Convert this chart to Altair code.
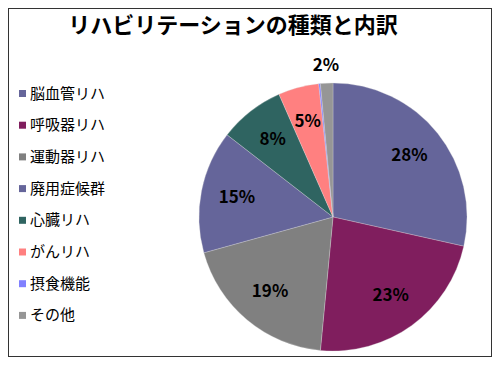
import altair as alt
import pandas as pd

TITLE = "リハビリテーションの種類と内訳"
categories = ["脳血管リハ", "呼吸器リハ", "運動器リハ", "廃用症候群", "心臓リハ", "がんリハ", "摂食機能", "その他"]
values = [28.5, 23.0, 19.2, 14.8, 7.9, 4.9, 0.2, 1.5]
labels = ["28%", "23%", "19%", "15%", "8%", "5%", "", "2%"]
colors = ["#65659A", "#801E5E", "#808080", "#65659A", "#2F6461", "#FF8080", "#8080FF", "#969696"]

df = pd.DataFrame({
    "idx": list(range(len(categories))),
    "category": categories,
    "value": values,
    "label": labels,
})

FONT = "Noto Sans CJK JP"
CX, CY, R = 325, 209, 134

base = alt.Chart(df).encode(
    theta=alt.Theta("value:Q", stack=True),
    order=alt.Order("idx:Q", sort="ascending"),
    x=alt.value(CX),
    y=alt.value(CY),
)

pie = base.mark_arc(outerRadius=R, stroke="#dddddd", strokeWidth=0.3).encode(
    color=alt.Color(
        "category:N",
        scale=alt.Scale(domain=categories, range=colors),
        sort=categories,
        legend=alt.Legend(
            title=None,
            orient="none",
            legendX=7,
            legendY=78,
            symbolType="square",
            symbolSize=49,
            symbolStrokeWidth=0,
            labelFont=FONT,
            labelFontSize=15,
            labelColor="#000000",
            labelOffset=0,
            rowPadding=15.7,
            padding=0,
            labelLimit=200,
        ),
    )
)

inner_text = base.mark_text(
    radius=98, font=FONT, fontSize=17, fontWeight="bold", color="#000000"
).transform_calculate(
    inner_label="datum.value >= 3 ? datum.label : ''"
).encode(text="inner_label:N")

outer_text = base.mark_text(
    radius=151, font=FONT, fontSize=17, fontWeight="bold", color="#000000"
).transform_calculate(
    outer_label="datum.value < 3 ? datum.label : ''"
).encode(text="outer_label:N")

title_df = pd.DataFrame({"t": [TITLE]})
title = alt.Chart(title_df).mark_text(
    font=FONT, fontSize=22, fontWeight="bold", color="#000000"
).encode(text="t:N", x=alt.value(225), y=alt.value(18))

chart = alt.layer(pie, inner_text, outer_text, title).properties(
    width=484, height=349, autosize=alt.AutoSizeParams(type="none"), padding=0
).configure(background="white").configure_view(stroke="#333333", strokeWidth=2)

chart.save("out.html", embed_options={"renderer": "svg", "actions": False})
